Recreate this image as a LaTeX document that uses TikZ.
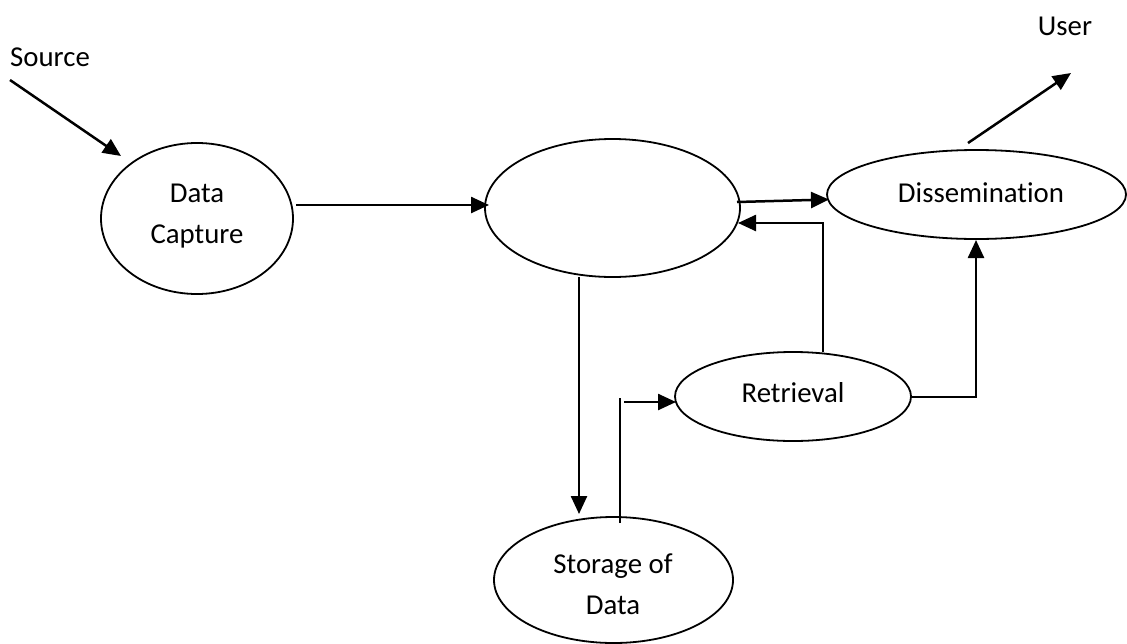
\documentclass[tikz,border=0pt]{standalone}
\usepackage{fontspec}
\setmainfont[Ligatures={NoCommon}]{Carlito}
\usetikzlibrary{shapes.geometric,arrows.meta}
\begin{document}
\begin{tikzpicture}[x=1pt,y=-1pt,
  proc/.style={draw=black,line width=1.8pt,ellipse,inner sep=0pt},
  lbl/.style={font=\fontsize{28.8}{41}\selectfont,align=center,inner sep=0pt},
  conn/.style={line width=2.5pt},
  arr/.style={conn,-{Triangle[length=18pt,width=16pt]}}]
\useasboundingbox[fill=white] (0,0) rectangle (1127,643);
% ellipses
\node[proc,minimum width=192pt,minimum height=151pt] (dc) at (197,218.5) {};
\node[proc,minimum width=255pt,minimum height=138pt] (pr) at (612.5,208) {};
\node[proc,minimum width=299pt,minimum height=89pt] (di) at (976.5,194.5) {};
\node[proc,minimum width=236pt,minimum height=89pt] (re) at (793,396.5) {};
\node[proc,minimum width=239pt,minimum height=126pt] (st) at (613.5,580) {};
% texts
\node[lbl] (tdc) at (197,216) {Data\\Capture};
\node[lbl] (tdi) at (981,193) {Dissemination};
\node[lbl] (tre) at (793,393) {Retrieval};
\node[lbl] (tst) at (613,584) {Storage of\\Data};
\node[lbl] (src) at (50,57) {Source};
\node[lbl] (usr) at (1065,26) {User};
% free ends
\coordinate (s0) at (10,80);
\coordinate (s1) at (121,156);
\coordinate (u0) at (968,143);
\coordinate (u1) at (1071,73);
\coordinate (dcR) at (296,205);
\coordinate (prL) at (489,205);
\coordinate (prR) at (737,202);
\coordinate (diL) at (829,199.5);
\coordinate (bk) at (823,223);
\coordinate (bkT) at (738,223);
\coordinate (reT) at (823,352);
\coordinate (reR) at (911,397);
\coordinate (diB) at (976,240);
\coordinate (prB) at (579,277);
\coordinate (stT) at (579,514);
\coordinate (sv0) at (620,523);
\coordinate (sv1) at (620,398);
\coordinate (sh0) at (624,402);
\coordinate (reL) at (676,402);
% connectors
\draw[arr] (s0) -- (s1);
\draw[arr] (u0) -- (u1);
\draw[arr] (dcR) -- (prL);
\draw[arr] (prR) -- (diL);
\draw[arr] (reT) -- (bk) -- (bkT);
\draw[arr] (reR) -| (diB);
\draw[arr] (prB) -- (stT);
\draw[conn] (sv0) -- (sv1);
\draw[arr] (sh0) -- (reL);
\end{tikzpicture}
\end{document}
